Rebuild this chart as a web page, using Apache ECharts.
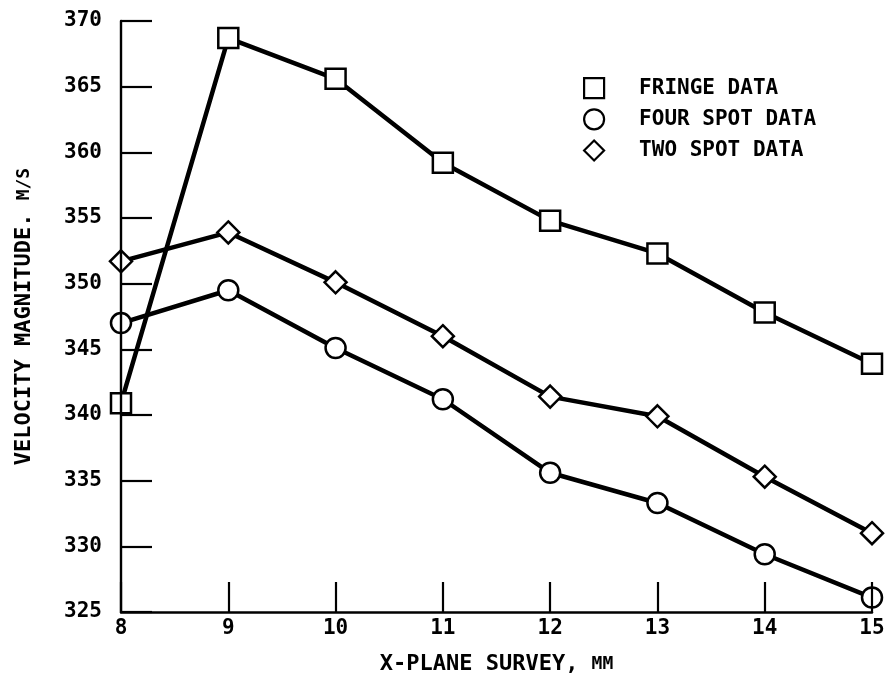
<!DOCTYPE html>
<html>
<head>
<meta charset="utf-8">
<script src="https://cdn.jsdelivr.net/npm/echarts@6/dist/echarts.min.js"></script>
<style>
  html, body { margin: 0; padding: 0; background: #fff; }
  #chart { width: 888px; height: 680px; }
</style>
</head>
<body>
<div id="chart"></div>
<script>
// Survey positions along the X plane (mm)
const xPositions = [8, 9, 10, 11, 12, 13, 14, 15];

// Velocity magnitude (m/s) per measurement technique
const fringeData   = [340.9, 368.7, 365.6, 359.2, 354.8, 352.3, 347.8, 343.9];
const fourSpotData = [347.0, 349.5, 345.1, 341.2, 335.6, 333.3, 329.4, 326.1];
const twoSpotData  = [351.7, 353.9, 350.1, 346.0, 341.4, 339.9, 335.3, 331.0];

const seriesNames = ['FRINGE DATA', 'FOUR SPOT DATA', 'TWO SPOT DATA'];
const seriesSymbols = ['rect', 'circle', 'diamond'];

const FONT = '"DejaVu Sans Mono", "Liberation Mono", monospace';
const INK = '#000';

function pairs(values) {
  return xPositions.map((x, i) => [x, values[i]]);
}

function makeSeries(name, symbol, values, size) {
  return {
    name: name,
    type: 'line',
    data: pairs(values),
    symbol: symbol,
    symbolSize: size,
    showAllSymbol: true,
    lineStyle: { color: INK, width: 4.5 },
    itemStyle: { color: '#fff', borderColor: INK, borderWidth: 2.5 },
    emphasis: { disabled: true },
    animation: false,
    z: 2
  };
}

const chart = echarts.init(document.getElementById('chart'), null, { renderer: 'canvas' });

chart.setOption({
  backgroundColor: '#fff',
  animation: false,
  grid: { left: 121, right: 16, top: 21, bottom: 68, containLabel: false },
  legend: {
    orient: 'vertical',
    left: 578,
    top: 72,
    itemWidth: 20,
    itemHeight: 20,
    itemGap: 9,
    selectedMode: false,
    data: seriesNames.map((n, i) => ({ name: n, icon: seriesSymbols[i] })),
    itemStyle: { color: '#fff', borderColor: INK, borderWidth: 2.2 },
    textStyle: {
      color: INK,
      fontFamily: FONT,
      fontWeight: 'bold',
      fontSize: 21,
      padding: [0, 0, 0, 30]
    }
  },
  xAxis: {
    type: 'value',
    min: 8,
    max: 15,
    interval: 1,
    z: 4,
    name: 'X-PLANE SURVEY, {s|MM}',
    nameLocation: 'middle',
    nameGap: 41,
    nameTextStyle: {
      color: INK,
      fontFamily: FONT,
      fontWeight: 'bold',
      fontSize: 22,
      rich: { s: { fontFamily: FONT, fontWeight: 'bold', fontSize: 18, color: INK } }
    },
    axisLine: { show: true, onZero: false, lineStyle: { color: INK, width: 2.5 } },
    axisTick: { show: true, inside: true, length: 30, lineStyle: { color: INK, width: 2.2 } },
    axisLabel: {
      color: INK,
      fontFamily: FONT,
      fontWeight: 'bold',
      fontSize: 21,
      margin: 6,
      showMinLabel: true,
      showMaxLabel: true
    },
    splitLine: { show: false }
  },
  yAxis: {
    type: 'value',
    min: 325,
    max: 370,
    interval: 5,
    z: 4,
    name: 'VELOCITY MAGNITUDE. {s|M/S}',
    nameLocation: 'middle',
    nameGap: 86,
    nameRotate: 90,
    nameTextStyle: {
      color: INK,
      fontFamily: FONT,
      fontWeight: 'bold',
      fontSize: 22,
      rich: { s: { fontFamily: FONT, fontWeight: 'bold', fontSize: 18, color: INK } }
    },
    axisLine: { show: true, onZero: false, lineStyle: { color: INK, width: 2.4 } },
    axisTick: { show: true, inside: true, length: 31, lineStyle: { color: INK, width: 2.2 } },
    axisLabel: {
      color: INK,
      fontFamily: FONT,
      fontWeight: 'bold',
      fontSize: 21,
      margin: 19,
      showMinLabel: true,
      showMaxLabel: true
    },
    splitLine: { show: false }
  },
  series: [
    makeSeries(seriesNames[0], seriesSymbols[0], fringeData, 20),
    makeSeries(seriesNames[1], seriesSymbols[1], fourSpotData, 20),
    makeSeries(seriesNames[2], seriesSymbols[2], twoSpotData, 22)
  ]
});
</script>
</body>
</html>
